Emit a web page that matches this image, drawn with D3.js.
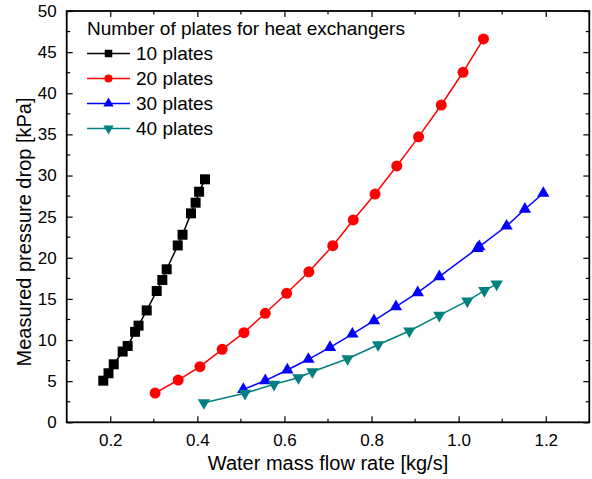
<!DOCTYPE html>
<html><head><meta charset="utf-8">
<script src="https://cdn.jsdelivr.net/npm/d3@7"></script>
<style>body{margin:0;background:#fff}svg{display:block}text{font-family:"Liberation Sans",Arial,sans-serif;fill:#000}</style>
</head><body>
<script>
const x10 = [0.184,0.196,0.208,0.2285,0.240,0.257,0.265,0.2837,0.3067,0.3196,0.3296,0.355,0.366,0.3854,0.396,0.404,0.4176];
const y10 = [5.06,5.96,7.05,8.6,9.28,11.0,11.75,13.6,15.96,17.3,18.6,21.5,22.8,25.4,26.7,28.03,29.54];
const x20 = [0.303,0.356,0.406,0.457,0.507,0.556,0.605,0.656,0.711,0.758,0.808,0.858,0.908,0.960,1.010,1.057];
const y20 = [3.55,5.14,6.76,8.87,10.9,13.25,15.68,18.3,21.47,24.6,27.75,31.16,34.7,38.57,42.55,46.6];
const x30 = [0.5055,0.556,0.6066,0.655,0.7046,0.756,0.8056,0.856,0.906,0.9556,1.043,1.0475,1.110,1.152,1.1944];
const y30 = [4.0,5.06,6.36,7.66,9.1,10.73,12.35,14.05,15.76,17.7,21.15,21.35,23.86,25.9,27.84];
const x40 = [0.415,0.5094,0.576,0.632,0.664,0.745,0.815,0.8867,0.9556,1.020,1.059,1.0873];
const y40 = [2.38,3.52,4.62,5.42,6.15,7.73,9.43,11.1,13.0,14.75,16.0,16.8];
const seriesNames = ["10 plates","20 plates","30 plates","40 plates"];
const legendTitle = "Number of plates for heat exchangers";
const xTicks = [0.2,0.4,0.6,0.8,1.0,1.2];
const yTicks = [0,5,10,15,20,25,30,35,40,45,50];
const xTitle = "Water mass flow rate [kg/s]";
const yTitle = "Measured pressure drop [kPa]";

const W=592,H=479;
const L=66.7,R=589.3,T=11,B=422.3;
const svg=d3.select("body").append("svg").attr("width",W).attr("height",H);
const x=d3.scaleLinear().domain([0.1,1.3]).range([L,R]);
const y=d3.scaleLinear().domain([0,50]).range([B,T]);

const series=[
 {xs:x10,ys:y10,color:"#000000",sym:d3.symbolSquare,size:100,lsize:56,rot:0},
 {xs:x20,ys:y20,color:"#FF0000",sym:d3.symbolCircle,size:95,lsize:52,rot:0},
 {xs:x30,ys:y30,color:"#0000FF",sym:d3.symbolTriangle,size:66,lsize:46,rot:0},
 {xs:x40,ys:y40,color:"#008080",sym:d3.symbolTriangle,size:66,lsize:46,rot:180}
];

const xMinor=d3.range(0.1,1.31,0.1).map(v=>+v.toFixed(2)).filter(v=>!xTicks.some(t=>Math.abs(t-v)<1e-6));
const yMinor=d3.range(2.5,50,5);
const g=svg.append("g");
function axes(){
  const maj=6,mn=3.5;
  const gb=g.append("g").attr("transform",`translate(0,${B})`)
    .call(d3.axisBottom(x).tickValues(xTicks).tickFormat(d3.format(".1f")).tickSizeInner(-maj).tickSizeOuter(0).tickPadding(12));
  gb.append("g").selectAll("line").data(xMinor).join("line").attr("x1",d=>x(d)).attr("x2",d=>x(d)).attr("y1",0).attr("y2",-mn).attr("stroke","#000").attr("stroke-width",1.2);
  const gt=g.append("g").attr("transform",`translate(0,${T})`)
    .call(d3.axisTop(x).tickValues(xTicks).tickFormat("").tickSizeInner(-maj).tickSizeOuter(0));
  gt.append("g").selectAll("line").data(xMinor).join("line").attr("x1",d=>x(d)).attr("x2",d=>x(d)).attr("y1",0).attr("y2",mn).attr("stroke","#000").attr("stroke-width",1.2);
  const gl=g.append("g").attr("transform",`translate(${L},0)`)
    .call(d3.axisLeft(y).tickValues(yTicks).tickFormat(d3.format("d")).tickSizeInner(-maj).tickSizeOuter(0).tickPadding(10));
  gl.append("g").selectAll("line").data(yMinor).join("line").attr("y1",d=>y(d)).attr("y2",d=>y(d)).attr("x1",0).attr("x2",mn).attr("stroke","#000").attr("stroke-width",1.2);
  const gr=g.append("g").attr("transform",`translate(${R},0)`)
    .call(d3.axisRight(y).tickValues(yTicks).tickFormat("").tickSizeInner(-maj).tickSizeOuter(0));
  gr.append("g").selectAll("line").data(yMinor).join("line").attr("y1",d=>y(d)).attr("y2",d=>y(d)).attr("x1",0).attr("x2",-mn).attr("stroke","#000").attr("stroke-width",1.2);
  g.selectAll(".domain").remove();
  g.selectAll(".tick line").attr("stroke","#000").attr("stroke-width",1.2);
  g.selectAll(".tick text").style("font-size","17px").attr("fill","#000");
  g.append("rect").attr("x",L).attr("y",T).attr("width",R-L).attr("height",B-T).attr("fill","none").attr("stroke","#000").attr("stroke-width",1.8);
}
axes();

const line=d3.line().x(d=>x(d[0])).y(d=>y(d[1]));
series.forEach(s=>{
  const pts=s.xs.map((v,i)=>[v,s.ys[i]]);
  svg.append("path").attr("d",line(pts)).attr("fill","none").attr("stroke",s.color).attr("stroke-width",1.5);
  svg.append("g").selectAll("path").data(pts).join("path")
    .attr("d",d3.symbol(s.sym,s.size)())
    .attr("transform",d=>`translate(${x(d[0])},${y(d[1])}) rotate(${s.rot})`)
    .attr("fill",s.color);
});

const lg=svg.append("g");
lg.append("text").attr("x",87).attr("y",35).style("font-size","19px").text(legendTitle);
series.forEach((s,i)=>{
  const cy=53.5+i*25;
  lg.append("line").attr("x1",87).attr("x2",130).attr("y1",cy).attr("y2",cy).attr("stroke",s.color).attr("stroke-width",1.5);
  lg.append("path").attr("d",d3.symbol(s.sym,s.lsize)()).attr("transform",`translate(108.5,${cy}) rotate(${s.rot})`).attr("fill",s.color);
  lg.append("text").attr("x",136).attr("y",cy).attr("dy","0.35em").style("font-size","19px").text(seriesNames[i]);
});

svg.append("text").attr("x",(L+R)/2).attr("y",470).attr("text-anchor","middle").style("font-size","20px").text(xTitle);
svg.append("text").attr("transform",`translate(31,232) rotate(-90)`).attr("text-anchor","middle").style("font-size","20px").text(yTitle);
</script>
</body></html>
